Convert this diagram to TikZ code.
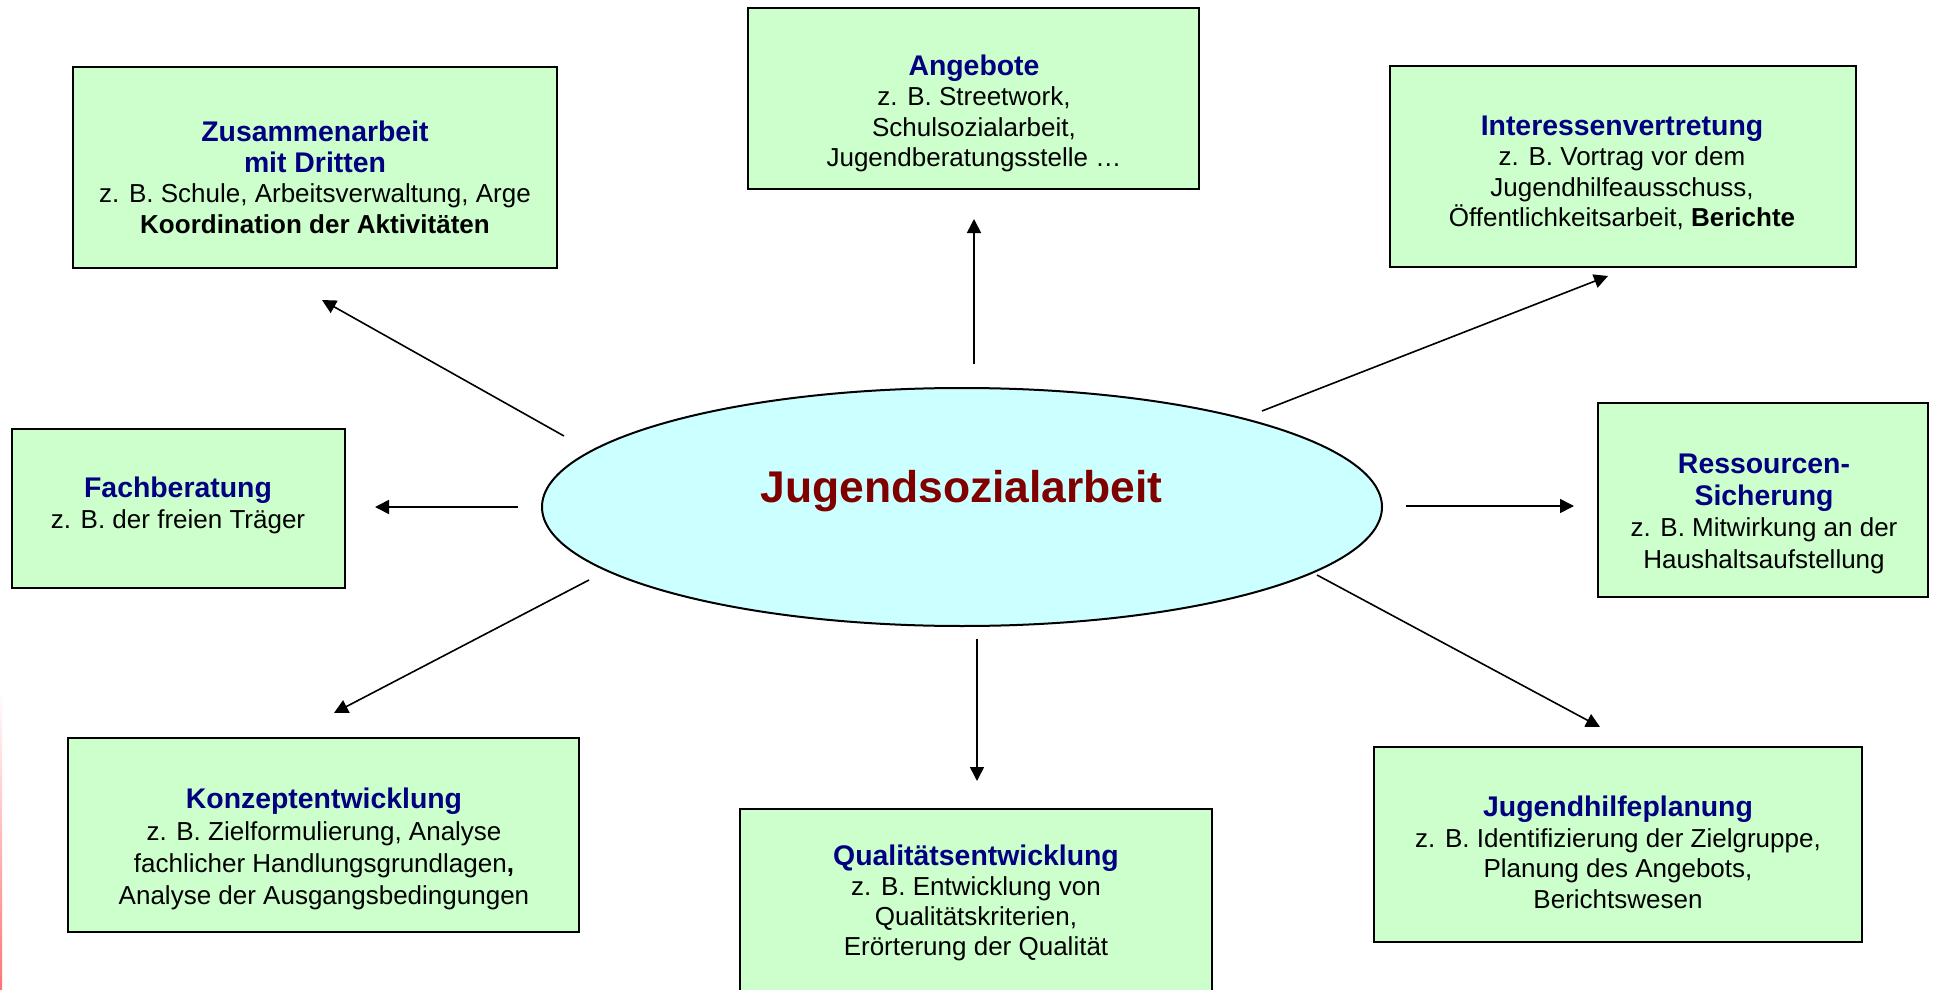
\documentclass[tikz,border=0pt]{standalone}
\usepackage{fontspec}
\setmainfont{Liberation Sans}
\usetikzlibrary{arrows.meta,shapes.geometric}

\definecolor{boxgreen}{HTML}{CCFFCC}
\definecolor{hubcyan}{HTML}{CCFFFF}
\definecolor{headblue}{HTML}{000080}
\definecolor{hubred}{HTML}{800000}

\newcommand{\boxhead}[1]{{\fontsize{14.2}{15.5}\selectfont\bfseries\color{headblue}#1}}

\tikzset{
    box/.style={rectangle, draw=black, line width=1pt, fill=boxgreen, inner sep=0pt},
    boxtext/.style={align=center, anchor=base, inner sep=0pt,
        font=\fontsize{13}{#1}\selectfont},
    boxtext/.default=15.5pt,
    hub/.style={ellipse, draw=black, line width=1pt, fill=hubcyan, inner sep=0pt},
    arr/.style={-{Triangle[length=7pt,width=7pt]}, line width=0.8pt},
}

\begin{document}
\begin{tikzpicture}[x=0.5pt,y=-0.5pt]
    \useasboundingbox (0,0) rectangle (1934,990);
    \shade[top color=white, bottom color=red!55!white] (0,690) rectangle (2,990);

    % boxes
    \node[box, minimum width=242pt, minimum height=100.5pt] (zus) at (315,167.5) {};
    \node[box, minimum width=225.5pt, minimum height=90.5pt] (ang) at (973.5,98.5) {};
    \node[box, minimum width=233pt, minimum height=100.5pt] (int) at (1623,166.5) {};
    \node[box, minimum width=166.5pt, minimum height=79.5pt] (fach) at (178.5,508.5) {};
    \node[box, minimum width=165pt, minimum height=97pt] (res) at (1763,500) {};
    \node[box, minimum width=255.5pt, minimum height=97pt] (konz) at (323.5,835) {};
    \node[box, minimum width=236pt, minimum height=93pt] (qual) at (976,902) {};
    \node[box, minimum width=244pt, minimum height=97.5pt] (jhp) at (1618,844.5) {};
    \node[hub, minimum width=420pt, minimum height=119pt] (jsa) at (962,507) {};

    % texts
    \node[boxtext] (zus-t) at (315,234) {\boxhead{Zusammenarbeit}\\ \boxhead{mit Dritten}\\
        z. B. Schule, Arbeitsverwaltung, Arge\\ \textbf{Koordination der Aktivitäten}};
    \node[boxtext=15.25pt] (ang-t) at (974,167) {\boxhead{Angebote}\\ z. B. Streetwork,\\
        Schulsozialarbeit,\\ Jugendberatungsstelle …};
    \node[boxtext=15.25pt] (int-t) at (1622,227) {\boxhead{Interessenvertretung}\\ z. B. Vortrag vor dem\\
        Jugendhilfeausschuss,\\ Öffentlichkeitsarbeit, \textbf{Berichte}};
    \node[boxtext] (fach-t) at (178,528) {\boxhead{Fachberatung}\\ z. B. der freien Träger};
    \node[boxtext=15.75pt] (res-t) at (1764,568) {\boxhead{Ressourcen-}\\ \boxhead{Sicherung}\\
        z. B. Mitwirkung an der\\ Haushaltsaufstellung};
    \node[boxtext=16pt] (konz-t) at (324,904) {\boxhead{Konzeptentwicklung}\\ z. B. Zielformulierung, Analyse\\
        fachlicher Handlungsgrundlagen\textbf{,}\\ Analyse der Ausgangsbedingungen};
    \node[boxtext=15pt] (qual-t) at (976,955) {\boxhead{Qualitätsentwicklung}\\ z. B. Entwicklung von\\
        Qualitätskriterien,\\ Erörterung der Qualität};
    \node[boxtext=15.25pt] (jhp-t) at (1618,908) {\boxhead{Jugendhilfeplanung}\\ z. B. Identifizierung der Zielgruppe,\\
        Planung des Angebots,\\ Berichtswesen};
    \node[anchor=base, inner sep=0pt, font=\fontsize{22.2}{26}\selectfont\bfseries, text=hubred]
        (jsa-t) at (961.5,502) {Jugendsozialarbeit};

    % arrows
    \coordinate (s-zus) at (564,436);  \coordinate (e-zus) at (322,300);
    \coordinate (s-ang) at (974,364);  \coordinate (e-ang) at (974,219);
    \coordinate (s-int) at (1262,411); \coordinate (e-int) at (1608,276);
    \coordinate (s-fach) at (518,507); \coordinate (e-fach) at (375,507);
    \coordinate (s-res) at (1406,506); \coordinate (e-res) at (1574,506);
    \coordinate (s-konz) at (589,580); \coordinate (e-konz) at (334,713);
    \coordinate (s-qual) at (977,639); \coordinate (e-qual) at (977,781);
    \coordinate (s-jhp) at (1317,575); \coordinate (e-jhp) at (1600,727);
    \draw[arr] (s-zus) -- (e-zus);
    \draw[arr] (s-ang) -- (e-ang);
    \draw[arr] (s-int) -- (e-int);
    \draw[arr] (s-fach) -- (e-fach);
    \draw[arr] (s-res) -- (e-res);
    \draw[arr] (s-konz) -- (e-konz);
    \draw[arr] (s-qual) -- (e-qual);
    \draw[arr] (s-jhp) -- (e-jhp);
\end{tikzpicture}
\end{document}
